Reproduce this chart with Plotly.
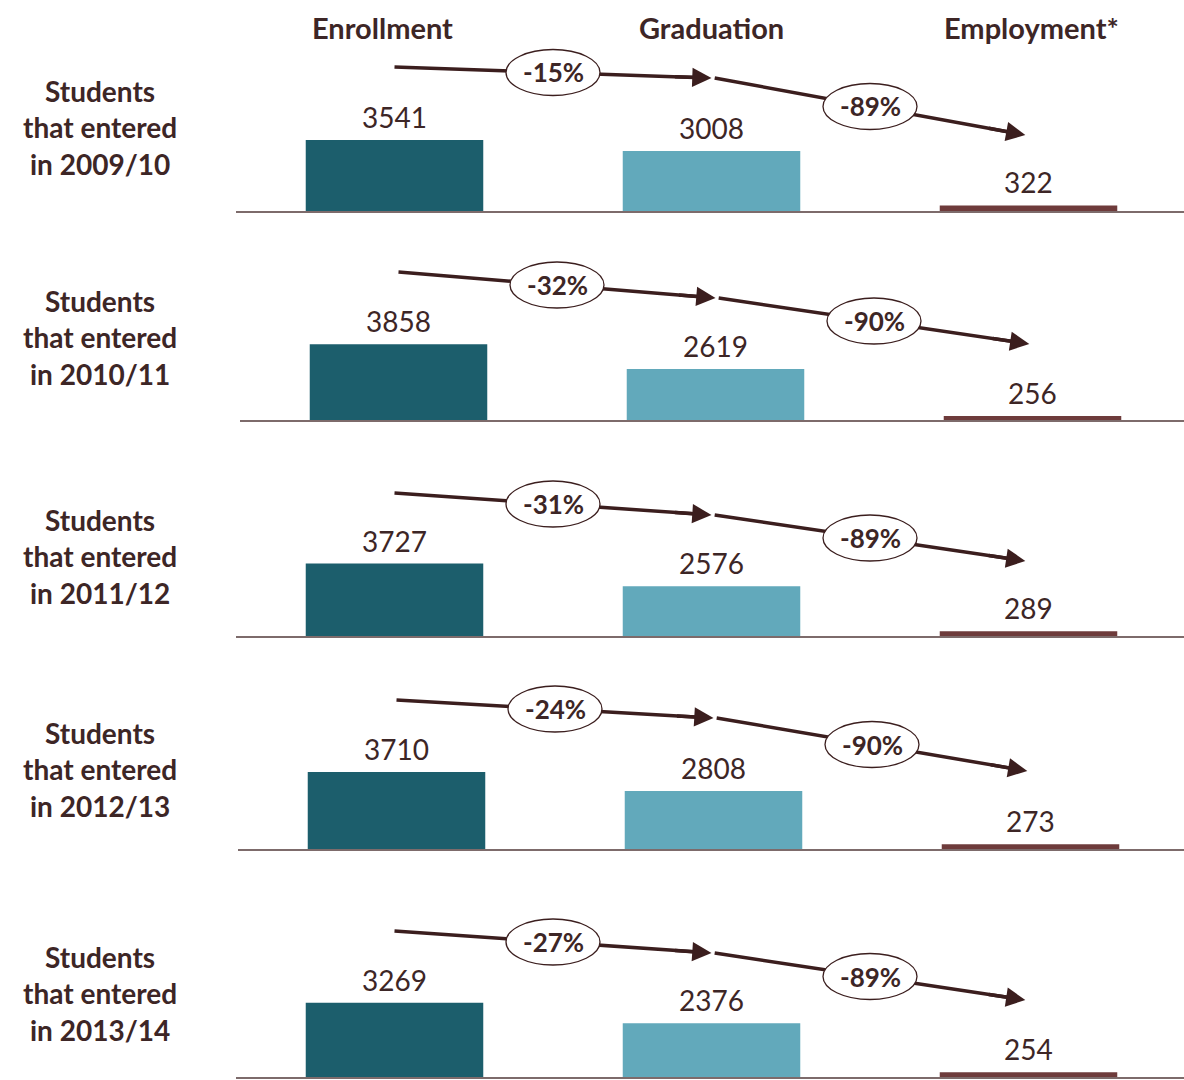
import plotly.graph_objects as go

# ---- data ----
cohorts = ["2009/10", "2010/11", "2011/12", "2012/13", "2013/14"]
stages = ["Enrollment", "Graduation", "Employment*"]
enrollment = [3541, 3858, 3727, 3710, 3269]
graduation = [3008, 2619, 2576, 2808, 2376]
employment = [322, 256, 289, 273, 254]

# ---- style / layout ----
W, H = 1184, 1080
colors = ["#1c5e6c", "#62a9bb", "#6e3b3b"]
txt = "#3d2626"
arrow_c = "#3b1e1e"
font_f = "Lato"
baselines = [212, 421, 637, 850, 1078]          # px from top
x_starts = [236, 240, 236, 238, 236]             # px where row axis starts
px_per_unit = [0.0203, 0.0199, 0.0197, 0.0210, 0.0230]
row_h = 175                                      # px height of each row plot area
col_px = 317                                     # px between category centers
arrow_off = [(145, 134, 77), (149, 123, 77), (144, 122, 76), (150, 132, 79), (147, 125, 78)]
label_centers = [128, 337, 556, 770, 993]

fig = go.Figure()
shapes, annos = [], []
layout = {}

for r in range(5):
    n = r + 1
    xa = "x" if n == 1 else f"x{n}"
    ya = "y" if n == 1 else f"y{n}"
    vals = [enrollment[r], graduation[r], employment[r]]
    s = px_per_unit[r]
    fig.add_trace(go.Bar(
        x=[0, 1, 2], y=vals, width=0.56,
        marker=dict(color=colors, line=dict(width=0)),
        xaxis=xa, yaxis=ya, showlegend=False, hoverinfo="skip"))
    # value labels
    for i, v in enumerate(vals):
        annos.append(dict(x=i, y=v, xref=xa, yref=ya, text=str(v), showarrow=False,
                          yanchor="bottom", yshift=4,
                          font=dict(family=font_f, size=28, color=txt)))
    # arrows
    a0, a1, a2 = (o / s for o in arrow_off[r])
    for xs, ys in [([0, 1.0], [a0, a1]), ([1.01, 1.99], [a1, a2])]:
        fig.add_trace(go.Scatter(
            x=[xs[0], xs[1] - 0.03], y=[ys[0], ys[1] - (ys[1] - ys[0]) * 0.03 / (xs[1] - xs[0])],
            mode="lines", xaxis=xa, yaxis=ya,
            line=dict(color=arrow_c, width=3.5),
            showlegend=False, hoverinfo="skip", cliponaxis=False))
        f = 0.12 / (xs[1] - xs[0])
        annos.append(dict(x=xs[1], y=ys[1], ax=xs[1] - 0.12, ay=ys[1] - (ys[1] - ys[0]) * f,
                          xref=xa, yref=ya, axref=xa, ayref=ya, text="", showarrow=True,
                          arrowhead=2, arrowsize=1.1, arrowwidth=3.5, arrowcolor=arrow_c))
    # percent ellipses
    p1 = round((graduation[r] / enrollment[r] - 1) * 100)
    p2 = round((employment[r] / graduation[r] - 1) * 100)
    for xc, yc, p in [(0.5, (a0 + a1) / 2, p1), (1.5, (a1 + a2) / 2, p2)]:
        shapes.append(dict(type="circle", xref=xa, yref=ya, xsizemode="pixel", ysizemode="pixel",
                           xanchor=xc, yanchor=yc, x0=-47, x1=47, y0=-23, y1=23,
                           fillcolor="white", line=dict(color=arrow_c, width=1.3), layer="above"))
        annos.append(dict(x=xc, y=yc, xref=xa, yref=ya, text=f"<b>{p}%</b>", showarrow=False,
                          font=dict(family=font_f, size=26, color=txt)))
    # axes
    x0p = x_starts[r]
    layout[("xaxis" if n == 1 else f"xaxis{n}")] = dict(
        domain=[x0p / W, 1], range=[-0.5, -0.5 + (W - x0p) / col_px],
        showgrid=False, zeroline=False, showticklabels=False, ticks="",
        showline=False, anchor=ya, fixedrange=True)
    b = baselines[r]
    layout[("yaxis" if n == 1 else f"yaxis{n}")] = dict(
        domain=[1 - b / H, 1 - (b - row_h) / H], range=[0, row_h / s],
        showgrid=False, zeroline=False, showticklabels=False, ticks="",
        showline=False, anchor=xa, fixedrange=True)
    # baseline
    shapes.append(dict(type="line", xref="paper", yref="paper",
                       x0=x0p / W, x1=1, y0=1 - b / H, y1=1 - b / H,
                       line=dict(color="#7d6b6b", width=2), layer="above"))
    # row label
    annos.append(dict(x=100 / W, y=1 - label_centers[r] / H, xref="paper", yref="paper",
                      xanchor="center", yanchor="middle",
                      text=f"<b>Students<br>that entered<br>in {cohorts[r]}</b>", showarrow=False,
                      align="center", font=dict(family=font_f, size=28, color=txt)))

# headers
for i, (st, sh) in enumerate(zip(stages, [-12, 0, 3])):
    annos.append(dict(x=i, y=1 - 28 / H, xref="x", yref="paper", text=f"<b>{st}</b>",
                      xanchor="center", yanchor="middle",
                      showarrow=False, xshift=sh, font=dict(family=font_f, size=29, color=txt)))

fig.update_layout(
    width=W, height=H, margin=dict(l=0, r=0, t=0, b=0),
    paper_bgcolor="white", plot_bgcolor="white",
    shapes=shapes, annotations=annos, **layout)

fig.write_html("out.html")
